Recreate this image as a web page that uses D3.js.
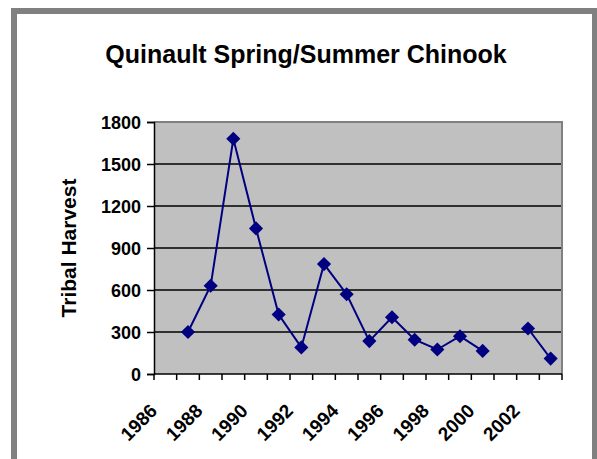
<!DOCTYPE html>
<html>
<head>
<meta charset="utf-8">
<script src="https://cdn.jsdelivr.net/npm/d3@7"></script>
<style>
  body { margin: 0; background: #fff; }
  svg text { font-family: "Liberation Sans", Arial, sans-serif; font-weight: bold; fill: #000; }
</style>
</head>
<body>
<div class="canvas"></div>
<script>
const years = [1986, 1987, 1988, 1989, 1990, 1991, 1992, 1993, 1994, 1995,
    1996, 1997, 1998, 1999, 2000, 2001, 2002, 2003];
// null = no harvest reported
const harvest = [null, 300, 630, 1680, 1040, 425, 190, 785, 570, 235,
    405, 245, 175, 270, 165, null, 325, 110];
const yTicks = [0, 300, 600, 900, 1200, 1500, 1800];
const xLabels = [1986, 1988, 1990, 1992, 1994, 1996, 1998, 2000, 2002];

let dims = { width: 597, height: 459 };
let plot = { left: 154, right: 562, top: 122, bottom: 374 };

const data = years.map((y, i) => ({ year: y, value: harvest[i] }));

const svg = d3
    .select(".canvas")
    .append("svg")
    .attr("width", dims.width)
    .attr("height", dims.height);

// outer frame
svg.append("rect")
    .attr("x", 14)
    .attr("y", 11)
    .attr("width", 581)
    .attr("height", 470)
    .attr("fill", "#fff")
    .attr("stroke", "#808080")
    .attr("stroke-width", 6);

svg.append("text")
    .attr("x", 306)
    .attr("y", 63)
    .attr("text-anchor", "middle")
    .attr("font-size", 25)
    .text("Quinault Spring/Summer Chinook");

const x = d3.scaleBand().domain(years).range([plot.left, plot.right]);
const y = d3.scaleLinear().domain([0, 1800]).range([plot.bottom, plot.top]);

// plot area
svg.append("rect")
    .attr("x", plot.left)
    .attr("y", plot.top)
    .attr("width", plot.right - plot.left)
    .attr("height", plot.bottom - plot.top)
    .attr("fill", "#c0c0c0");

svg.append("path")
    .attr("d", `M${plot.left},${plot.top}H${plot.right}V${plot.bottom}`)
    .attr("fill", "none")
    .attr("stroke", "#808080")
    .attr("stroke-width", 2);

// gridlines
svg.append("g")
    .selectAll("line")
    .data(yTicks.filter((d) => d > 0 && d < 1800))
    .enter()
    .append("line")
    .attr("x1", plot.left)
    .attr("x2", plot.right - 1)
    .attr("y1", (d) => y(d))
    .attr("y2", (d) => y(d))
    .attr("stroke", "#000")
    .attr("stroke-width", 1.5);

// y axis
const yAxis = svg.append("g")
    .attr("transform", `translate(${plot.left},0)`)
    .call(d3.axisLeft(y).tickValues(yTicks).tickFormat(d3.format("d")).tickSize(7).tickPadding(6));
yAxis.select(".domain").attr("stroke", "#000").attr("stroke-width", 1.5);
yAxis.selectAll(".tick line").attr("stroke", "#000").attr("stroke-width", 1.5);
yAxis.selectAll("text")
    .attr("font-size", 18)
    .attr("dy", "0.35em");

// x axis: ticks between categories
const xAxis = svg.append("g").attr("transform", `translate(0,${plot.bottom})`);
xAxis.append("line")
    .attr("x1", plot.left)
    .attr("x2", plot.right)
    .attr("stroke", "#000")
    .attr("stroke-width", 1.5);
xAxis.selectAll(".xtick")
    .data(years.concat([null]))
    .enter()
    .append("line")
    .attr("class", "xtick")
    .attr("x1", (d, i) => plot.left + i * x.bandwidth())
    .attr("x2", (d, i) => plot.left + i * x.bandwidth())
    .attr("y1", 0)
    .attr("y2", 6)
    .attr("stroke", "#000")
    .attr("stroke-width", 1.5);
xAxis.selectAll(".xlabel")
    .data(xLabels)
    .enter()
    .append("text")
    .attr("class", "xlabel")
    .attr("text-anchor", "end")
    .attr("font-size", 19)
    .attr("transform", (d) => `translate(${x(d) + x.bandwidth() / 2 - 7},${38}) rotate(-45)`)
    .text((d) => d);

svg.append("text")
    .attr("transform", `translate(76,${(plot.top + plot.bottom) / 2}) rotate(-90)`)
    .attr("text-anchor", "middle")
    .attr("font-size", 21)
    .text("Tribal Harvest");

// series
const line = d3.line()
    .defined((d) => d.value !== null)
    .x((d) => x(d.year) + x.bandwidth() / 2)
    .y((d) => y(d.value));

svg.append("path")
    .datum(data)
    .attr("d", line)
    .attr("fill", "none")
    .attr("stroke", "#000080")
    .attr("stroke-width", 2);

svg.append("g")
    .selectAll("path")
    .data(data.filter((d) => d.value !== null))
    .enter()
    .append("path")
    .attr("d", d3.symbol().type(d3.symbolSquare).size(100))
    .attr("transform", (d) => `translate(${x(d.year) + x.bandwidth() / 2},${y(d.value)}) rotate(45)`)
    .attr("fill", "#000080");
</script>
</body>
</html>
